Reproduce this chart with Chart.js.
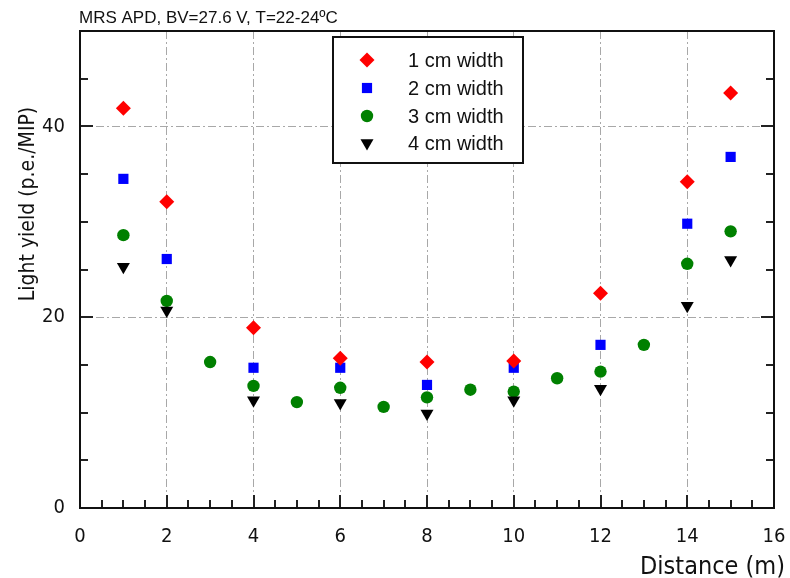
<!DOCTYPE html>
<html>
<head>
<meta charset="utf-8">
<script src="https://cdn.jsdelivr.net/npm/chart.js@4/dist/chart.umd.min.js"></script>
<style>
  html, body { margin: 0; padding: 0; background: #fff; }
  #wrap { width: 790px; height: 578px; position: relative; }
</style>
</head>
<body>
<div id="wrap"><canvas id="lyChart"></canvas></div>
<script>
// light yield vs distance along the strip, one series per strip width
var dist1 = [1, 2, 4, 6, 8, 10, 12, 14, 15];
var ly1cm = [41.9, 32.1, 18.9, 15.7, 15.3, 15.4, 22.5, 34.2, 43.5];

var dist2 = [1, 2, 4, 6, 8, 10, 12, 14, 15];
var ly2cm = [34.5, 26.1, 14.7, 14.7, 12.9, 14.7, 17.1, 29.8, 36.8];

var dist3 = [1, 2, 3, 4, 5, 6, 7, 8, 9, 10, 11, 12, 13, 14, 15];
var ly3cm = [28.6, 21.7, 15.3, 12.8, 11.1, 12.6, 10.6, 11.6, 12.4, 12.2, 13.6, 14.3, 17.1, 25.6, 29.0];

var dist4 = [1, 2, 4, 6, 8, 10, 12, 14, 15];
var ly4cm = [25.3, 20.7, 11.3, 11.0, 9.9, 11.3, 12.5, 21.2, 26.0];

var seriesNames = ['1 cm width', '2 cm width', '3 cm width', '4 cm width'];
var xTickLabels = [0, 2, 4, 6, 8, 10, 12, 14, 16];
var yTickLabels = [0, 20, 40];

var headerText = 'MRS APD, BV=27.6 V, T=22-24\u00BAC';
var xTitle = 'Distance (m)';
var yTitle = 'Light yield (p.e./MIP)';

function toPoints(xs, ys){
    return xs.map(function(x, i){ return {x: x, y: ys[i]}; });
}

var axisFont = '"DejaVu Sans Condensed", "DejaVu Sans", sans-serif';
var gridGray = '#a8a8a8';

var markers = [
    {style: 'rectRot',  radius: 7.5, color: '#ff0000', rotation: 0},
    {style: 'rect',     radius: 7.2, color: '#0000ff', rotation: 0},
    {style: 'circle',   radius: 6.2, color: '#008000', rotation: 0},
    {style: 'triangle', radius: 7.5, color: '#000000', rotation: 180}
];

var dataSets = [ly1cm, ly2cm, ly3cm, ly4cm];
var xSets = [dist1, dist2, dist3, dist4];
var drawOrder = [2, 3, 1, 0];

var datasets = dataSets.map(function(vals, i){
    var m = markers[i];
    return {
        label: seriesNames[i],
        data: toPoints(xSets[i], vals),
        pointStyle: m.style,
        pointRadius: m.radius,
        pointRotation: m.rotation,
        pointBackgroundColor: m.color,
        pointBorderColor: m.color,
        pointBorderWidth: 0,
        showLine: false,
        order: drawOrder[i]
    };
});

// frame, inward ticks, titles and the boxed legend
var decorations = {
    id: 'decorations',
    afterDraw: function(chart){
        var ctx = chart.ctx;
        var a = chart.chartArea;
        var xs = chart.scales.x, ys = chart.scales.y;
        ctx.save();

        // inward ticks: bottom, left, right
        ctx.strokeStyle = '#222';
        ctx.lineWidth = 2;
        ctx.beginPath();
        for (var v = 0.5; v < 16; v += 0.5){
            var px = Math.round(xs.getPixelForValue(v));
            var len = (v % 2 === 0) ? 13 : 8;
            ctx.moveTo(px, a.bottom);
            ctx.lineTo(px, a.bottom - len);
        }
        for (var w = 5; w < 50; w += 5){
            var py = Math.round(ys.getPixelForValue(w));
            var l2 = (w % 20 === 0) ? 13 : 8;
            ctx.moveTo(a.left, py);
            ctx.lineTo(a.left + l2, py);
            ctx.moveTo(a.right, py);
            ctx.lineTo(a.right - l2, py);
        }
        ctx.stroke();

        // frame
        ctx.lineWidth = 2;
        ctx.strokeStyle = '#111';
        ctx.strokeRect(a.left, a.top, a.right - a.left, a.bottom - a.top);

        // header
        ctx.fillStyle = '#111';
        ctx.font = '17px "Liberation Sans", Arial, sans-serif';
        ctx.textAlign = 'left';
        ctx.textBaseline = 'alphabetic';
        ctx.fillText(headerText, 79, 23);

        // axis titles
        ctx.font = '25px ' + axisFont;
        ctx.textAlign = 'right';
        ctx.fillText(xTitle, 785, 574);
        ctx.save();
        ctx.font = '21px ' + axisFont;
        ctx.translate(34, 204);
        ctx.rotate(-Math.PI / 2);
        ctx.textAlign = 'center';
        ctx.fillText(yTitle, 0, 0);
        ctx.restore();

        // legend box
        var bx = 333, by = 37, bw = 190, bh = 126;
        ctx.fillStyle = '#fff';
        ctx.fillRect(bx, by, bw, bh);
        ctx.strokeStyle = '#111';
        ctx.lineWidth = 2;
        ctx.strokeRect(bx, by, bw, bh);
        var rowsY = [60, 88, 116, 143];
        ctx.font = '20px "Liberation Sans", Arial, sans-serif';
        ctx.textAlign = 'left';
        ctx.textBaseline = 'middle';
        seriesNames.forEach(function(name, i){
            var m = markers[i];
            ctx.fillStyle = m.color;
            ctx.strokeStyle = m.color;
            ctx.lineWidth = 0;
            Chart.helpers.drawPoint(ctx, {pointStyle: m.style, radius: m.radius, rotation: m.rotation, borderWidth: 0}, 367, rowsY[i]);
            ctx.fillStyle = '#111';
            ctx.fillText(name, 408, rowsY[i] + 1);
        });
        ctx.restore();
    }
};

var ctx = document.getElementById('lyChart').getContext('2d');
var lyChart = new Chart(ctx, {
    type: 'scatter',
    data: {datasets: datasets},
    options: {
        responsive: true,
        maintainAspectRatio: false,
        animation: false,
        layout: {padding: {left: 0, right: 16, top: 31, bottom: 0}},
        plugins: {legend: {display: false}, tooltip: {enabled: false}},
        scales: {
            x: {
                type: 'linear', min: 0, max: 16,
                afterFit: function(s){ s.height = 70; s.paddingLeft = 0; s.paddingRight = 0; },
                border: {display: false, dash: [8, 3, 2, 3]},
                grid: {
                    drawTicks: false,
                    color: function(c){
                        var v = c.tick ? c.tick.value : 0;
                        return (v % 2 === 0 && v > 0 && v < 16) ? gridGray : 'rgba(0,0,0,0)';
                    }
                },
                ticks: {
                    stepSize: 0.5, autoSkip: false, maxRotation: 0, padding: 17,
                    color: '#111', font: {family: axisFont, size: 20},
                    callback: function(v){ return xTickLabels.indexOf(v) >= 0 ? String(v) : ''; }
                }
            },
            y: {
                type: 'linear', min: 0, max: 50,
                afterFit: function(s){ s.width = 80; s.paddingTop = 0; s.paddingBottom = 0; },
                border: {display: false, dash: [8, 3, 2, 3]},
                grid: {
                    drawTicks: false,
                    color: function(c){
                        var v = c.tick ? c.tick.value : 0;
                        return (v === 20 || v === 40) ? gridGray : 'rgba(0,0,0,0)';
                    }
                },
                ticks: {
                    stepSize: 5, autoSkip: false, padding: 15,
                    color: '#111', font: {family: axisFont, size: 20},
                    callback: function(v){ return yTickLabels.indexOf(v) >= 0 ? String(v) : ''; }
                }
            }
        }
    },
    plugins: [decorations]
});
</script>
</body>
</html>
